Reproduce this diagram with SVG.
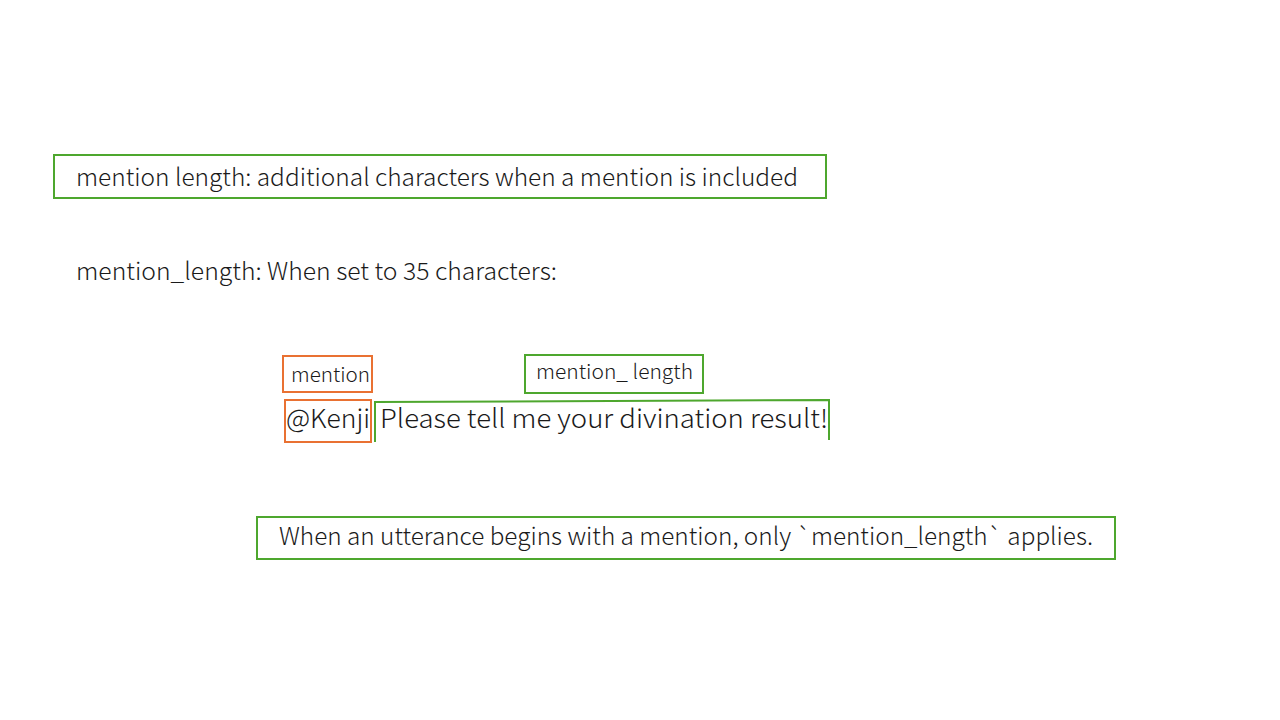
<svg xmlns="http://www.w3.org/2000/svg" width="1280" height="720" viewBox="0 0 1280 720">
<style>
text{font-family:"Noto Sans CJK JP","Liberation Sans",sans-serif;font-weight:300;fill:#1a1a1a}
.g{fill:none;stroke:#4ea72e;stroke-width:2}
.o{fill:none;stroke:#e97132;stroke-width:2}
</style>
<rect width="1280" height="720" fill="#fff"/>
<g id="title">
<rect class="g" x="54" y="155" width="772" height="43"/>
<text x="76" y="186" font-size="24" textLength="722" lengthAdjust="spacingAndGlyphs">mention length: additional characters when a mention is included</text>
</g>
<g id="subtitle">
<text x="76" y="280" font-size="24" textLength="481" lengthAdjust="spacingAndGlyphs">mention_length: When set to 35 characters:</text>
</g>
<g id="mention-label">
<rect class="o" x="283" y="356" width="89" height="36"/>
<text x="291" y="382" font-size="20" textLength="79" lengthAdjust="spacingAndGlyphs">mention</text>
</g>
<g id="length-label">
<rect class="g" x="525" y="355" width="178" height="38"/>
<text x="536" y="379" font-size="20" textLength="157" lengthAdjust="spacingAndGlyphs">mention_ length</text>
</g>
<g id="kenji">
<rect class="o" x="285" y="400" width="86" height="42"/>
<text x="286" y="428" font-size="26" textLength="84" lengthAdjust="spacingAndGlyphs">@Kenji</text>
</g>
<g id="message">
<path class="g" d="M375,442 V402 L829,400 V440"/>
<text x="380" y="428" font-size="26" textLength="448" lengthAdjust="spacingAndGlyphs">Please tell me your divination result!</text>
</g>
<g id="note">
<rect class="g" x="257" y="517" width="858" height="42"/>
<text x="279" y="545" font-size="24" textLength="814" lengthAdjust="spacingAndGlyphs">When an utterance begins with a mention, only `mention_length` applies.</text>
</g>
<g id="connectors"/>
</svg>
